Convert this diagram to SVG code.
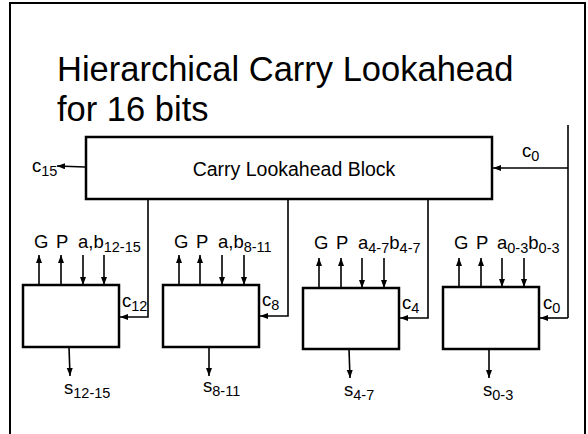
<svg xmlns="http://www.w3.org/2000/svg" width="588" height="434" viewBox="0 0 588 434">
<defs>
<marker id="ah" markerUnits="userSpaceOnUse" markerWidth="9" markerHeight="7" refX="8" refY="3" orient="auto"><path d="M0,0 L8,3 L0,6 z" fill="#000"/></marker>
<style>
text{font-family:"Liberation Sans",Arial,sans-serif;fill:#000}
.box{fill:#fff;stroke:#000;stroke-width:2.5}
.w{fill:none;stroke:#000;stroke-width:1.6}
.a{fill:none;stroke:#000;stroke-width:1.6;marker-end:url(#ah)}
.t{font-size:34.5px}
.l{font-size:18.5px}
.s{font-size:14.5px}
</style>
</defs>
<rect x="0" y="0" width="588" height="434" fill="#fff"/>
<rect x="10" y="3" width="575" height="445" fill="none" stroke="#000" stroke-width="2"/>
<text class="t" x="57" y="81">Hierarchical Carry Lookahead</text>
<text class="t" x="57" y="121">for 16 bits</text>

<g id="connectors">
<line class="a" x1="85" y1="167" x2="57" y2="166"/>
<polyline class="w" points="568,125 568,318"/>
<line class="a" x1="568" y1="168" x2="493" y2="168"/>
<polyline class="a" points="568,318 540,318"/>
<polyline class="a" points="148,199 148,317 120,317"/>
<polyline class="a" points="288,199 288,316 260,316"/>
<polyline class="a" points="428,199 428,318 400,318"/>
<line class="a" x1="39" y1="285" x2="39" y2="255"/>
<line class="a" x1="61" y1="285" x2="61" y2="255"/>
<line class="a" x1="83" y1="255" x2="83" y2="285"/>
<line class="a" x1="104" y1="255" x2="104" y2="285"/>
<line class="a" x1="179" y1="285" x2="179" y2="255"/>
<line class="a" x1="200" y1="285" x2="200" y2="255"/>
<line class="a" x1="222" y1="255" x2="222" y2="285"/>
<line class="a" x1="244" y1="255" x2="244" y2="285"/>
<line class="a" x1="319" y1="288" x2="319" y2="258"/>
<line class="a" x1="341" y1="288" x2="341" y2="258"/>
<line class="a" x1="362" y1="258" x2="362" y2="288"/>
<line class="a" x1="384" y1="258" x2="384" y2="288"/>
<line class="a" x1="459" y1="287" x2="459" y2="258"/>
<line class="a" x1="481" y1="287" x2="481" y2="258"/>
<line class="a" x1="502" y1="258" x2="502" y2="287"/>
<line class="a" x1="524" y1="258" x2="524" y2="287"/>
<line class="a" x1="69" y1="347" x2="70" y2="376"/>
<line class="a" x1="209" y1="347" x2="209" y2="376"/>
<line class="a" x1="349" y1="349" x2="350" y2="378"/>
<line class="a" x1="489" y1="349" x2="489" y2="378"/>
</g>

<g id="cla">
<rect class="box" x="86" y="137" width="406" height="62"/>
<text x="294" y="176" font-size="19.5" text-anchor="middle">Carry Lookahead Block</text>
</g>
<g id="c15"><text class="l" x="32" y="172">c<tspan class="s" dy="4">15</tspan></text></g>
<g id="c0in"><text class="l" x="522" y="157">c<tspan class="s" dy="4">0</tspan></text></g>

<g id="block12">
<rect class="box" x="23" y="285" width="96" height="62"/>
<text class="l" x="34" y="248">G</text>
<text class="l" x="56" y="248">P</text>
<text class="l" x="78" y="248">a,b<tspan class="s" dy="4">12-15</tspan></text>
<text class="l" x="122" y="307">c<tspan class="s" dy="4">12</tspan></text>
<text class="l" x="64" y="394">s<tspan class="s" dy="4">12-15</tspan></text>
</g>
<g id="block8">
<rect class="box" x="163" y="285" width="96" height="62"/>
<text class="l" x="174" y="248">G</text>
<text class="l" x="196" y="248">P</text>
<text class="l" x="218" y="248">a,b<tspan class="s" dy="4">8-11</tspan></text>
<text class="l" x="262" y="306">c<tspan class="s" dy="4">8</tspan></text>
<text class="l" x="203" y="392">s<tspan class="s" dy="4">8-11</tspan></text>
</g>
<g id="block4">
<rect class="box" x="303" y="288" width="96" height="61"/>
<text class="l" x="314" y="249">G</text>
<text class="l" x="336" y="249">P</text>
<text class="l" x="358" y="249">a<tspan class="s" dy="4">4-7</tspan><tspan dy="-4">b</tspan><tspan class="s" dy="4">4-7</tspan></text>
<text class="l" x="402" y="309">c<tspan class="s" dy="4">4</tspan></text>
<text class="l" x="344" y="396">s<tspan class="s" dy="4">4-7</tspan></text>
</g>
<g id="block0">
<rect class="box" x="443" y="287" width="96" height="62"/>
<text class="l" x="454" y="249">G</text>
<text class="l" x="476" y="249">P</text>
<text class="l" x="497" y="249">a<tspan class="s" dy="4">0-3</tspan><tspan dy="-4">b</tspan><tspan class="s" dy="4">0-3</tspan></text>
<text class="l" x="543" y="309">c<tspan class="s" dy="4">0</tspan></text>
<text class="l" x="483" y="396">s<tspan class="s" dy="4">0-3</tspan></text>
</g>
</svg>
